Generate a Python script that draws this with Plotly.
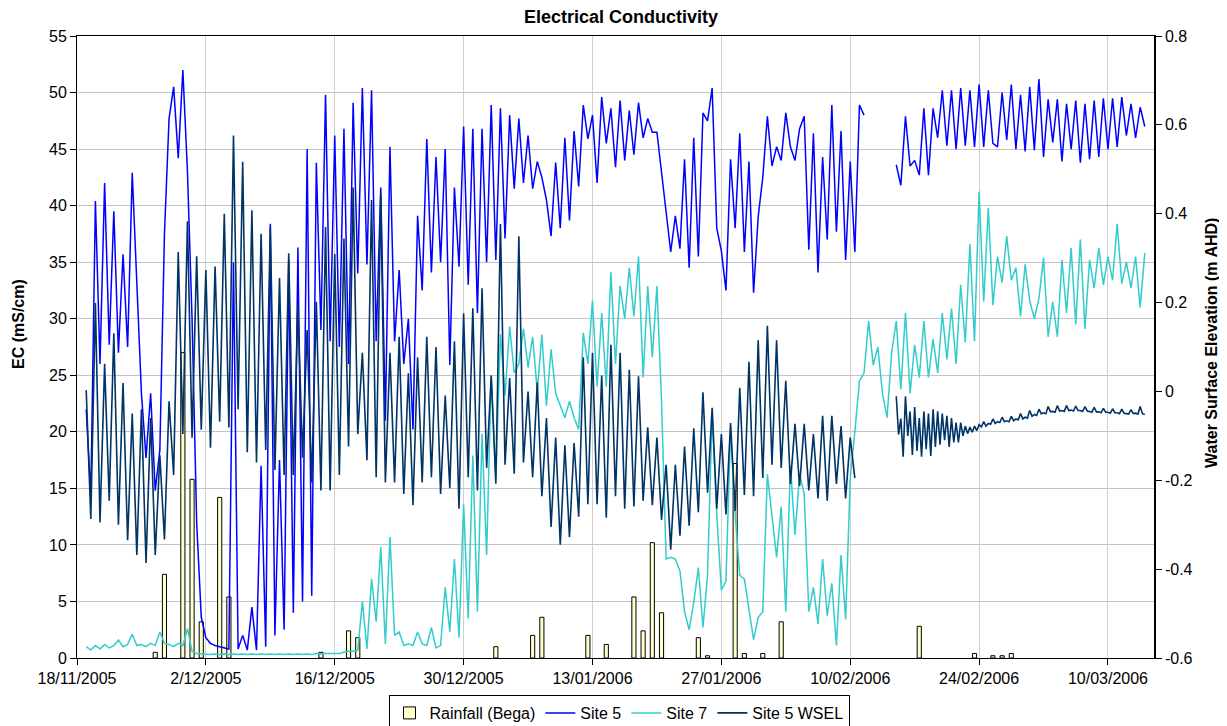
import pandas as pd
import plotly.graph_objects as go

# ---------------- data ----------------
start_main = "2005-11-19 00:00"   # 12-hourly readings
start_late = "2006-02-15 00:00"   # after logger gap

rain_dates = ["2005-11-26", "2005-11-27", "2005-11-29", "2005-11-30", "2005-12-01",
              "2005-12-03", "2005-12-04", "2005-12-14", "2005-12-17", "2005-12-18",
              "2006-01-02", "2006-01-06", "2006-01-07", "2006-01-12", "2006-01-14",
              "2006-01-17", "2006-01-18", "2006-01-19", "2006-01-20", "2006-01-24",
              "2006-01-25", "2006-01-28", "2006-01-29", "2006-01-31", "2006-02-02",
              "2006-02-17", "2006-02-23", "2006-02-25", "2006-02-26", "2006-02-27"]
rain_mm = [0.5, 7.4, 27.0, 15.8, 3.2,
           14.2, 5.4, 0.5, 2.4, 1.8,
           1.0, 2.0, 3.6, 2.0, 1.2,
           5.4, 2.4, 10.2, 4.0, 1.8,
           0.2, 17.2, 0.4, 0.4, 3.2,
           2.8, 0.4, 0.2, 0.2, 0.4]

site5_a = [22.0, 14.3, 40.4, 26.0, 42.0, 27.7, 39.5, 27.0, 35.7, 27.5,
           42.9, 32.7, 23.4, 17.7, 23.4, 14.8, 18.4, 37.5, 47.7, 50.5,
           44.2, 52.0, 43.0, 30.0, 12.0, 3.6, 1.8, 1.3, 1.1, 1.0,
           0.9, 0.8, 35.0, 0.8, 2.0, 0.7, 4.5, 0.7, 17.0, 1.0,
           38.4, 2.0, 17.5, 2.5, 35.2, 4.0, 36.3, 5.0, 45.0, 5.5,
           43.8, 29.0, 49.8, 28.0, 46.2, 27.5, 46.8, 26.0, 49.1, 34.0,
           50.4, 34.8, 50.2, 28.0, 41.6, 21.0, 45.2, 28.0, 34.3, 26.0,
           30.0, 20.2, 39.1, 32.5, 45.9, 34.1, 44.3, 35.0, 45.0, 25.9,
           41.6, 34.6, 47.0, 33.0, 46.8, 30.5, 46.8, 35.0, 48.9, 35.2,
           48.6, 37.1, 48.0, 41.5, 47.7, 42.0, 46.2, 41.5, 43.9, 42.5,
           40.5, 37.3, 43.8, 38.0, 46.0, 38.7, 46.6, 41.7, 48.9, 45.9,
           48.0, 42.0, 49.6, 45.5, 48.6, 43.4, 49.3, 44.0, 48.4, 44.5,
           49.1, 46.0, 47.7, 46.5, 46.5, 43.0, 39.0, 35.9, 39.1, 36.2,
           44.1, 34.5, 46.0, 35.5, 48.2, 47.5, 50.4, 38.0, 36.0, 32.5,
           44.1, 38.0, 46.4, 35.9, 43.9, 32.3, 39.0, 42.5, 47.9, 43.5,
           45.2, 44.0, 48.2, 45.2, 44.0, 46.8, 47.9, 36.1, 46.4, 34.1,
           44.3, 37.0, 48.9, 37.7, 46.6, 35.2, 43.9, 35.9, 48.9, 48.0]

site5_b = [43.6, 41.8, 47.9, 43.5, 44.0, 42.7, 48.6, 42.7, 48.6, 46.0,
           50.2, 45.3, 50.2, 45.0, 50.4, 45.3, 50.2, 45.2, 50.7, 45.2,
           50.2, 45.5, 45.2, 50.0, 45.8, 50.7, 45.0, 49.8, 44.8, 50.5,
           44.9, 51.2, 44.3, 49.4, 45.6, 49.4, 43.9, 49.0, 45.0, 49.3,
           43.8, 49.0, 44.1, 49.3, 44.3, 49.5, 45.0, 49.5, 45.2, 49.6,
           46.2, 49.0, 46.0, 48.7, 47.0]

site7 = [1.0, 0.7, 1.1, 0.8, 1.2, 0.9, 1.1, 1.6, 1.0, 1.2,
         2.1, 1.1, 1.2, 1.0, 1.3, 1.1, 2.3, 1.3, 1.2, 1.0,
         1.3, 1.1, 2.6, 0.6, 0.4, 0.35, 0.35, 0.3, 0.35, 0.3,
         0.35, 0.3, 0.35, 0.3, 0.35, 0.3, 0.35, 0.3, 0.35, 0.3,
         0.35, 0.3, 0.35, 0.3, 0.35, 0.3, 0.35, 0.3, 0.35, 0.3,
         0.4, 0.35, 0.4, 0.4, 0.45, 0.4, 0.5, 0.6, 0.6, 0.7,
         5.0, 0.8, 7.0, 3.2, 9.8, 1.25, 10.7, 2.0, 2.3, 1.1,
         1.25, 1.1, 2.3, 1.25, 1.1, 2.7, 0.9, 1.1, 6.25, 2.3,
         8.75, 1.8, 13.6, 3.5, 17.9, 4.1, 19.8, 9.1, 25.0, 16.0,
         28.6, 23.2, 29.3, 25.2, 26.0, 29.1, 25.7, 28.4, 23.6, 28.6,
         22.3, 27.3, 23.4, 22.3, 21.25, 22.7, 21.25, 20.2, 28.75, 26.0,
         31.6, 24.0, 30.5, 24.0, 34.1, 26.0, 32.9, 30.0, 34.5, 30.2,
         35.5, 24.8, 32.9, 26.6, 32.9, 22.7, 8.75, 8.9, 8.75, 7.7,
         4.1, 2.5, 4.9, 8.0, 2.7, 7.3, 21.6, 12.7, 6.0, 6.8,
         20.2, 12.7, 7.3, 7.0, 4.1, 1.6, 3.6, 4.1, 16.25, 12.7,
         8.9, 13.4, 4.1, 17.0, 10.9, 16.25, 14.5, 4.1, 6.25, 3.0,
         8.75, 3.75, 6.6, 1.1, 9.1, 3.4, 15.9, 20.0, 24.5, 25.2,
         29.8, 25.9, 27.5, 23.4, 21.25, 27.0, 29.8, 23.75, 30.5, 23.4,
         27.7, 24.8, 29.8, 24.8, 28.2, 25.2, 30.5, 26.4, 30.9, 26.0,
         33.0, 27.9, 36.6, 28.0, 41.25, 31.5, 39.8, 31.2, 35.5, 33.2,
         37.3, 33.4, 34.5, 30.2, 34.8, 31.6, 30.0, 31.8, 35.4, 28.4,
         31.5, 28.4, 35.2, 30.5, 36.25, 29.5, 37.0, 29.1, 35.2, 32.7,
         36.25, 33.0, 35.5, 33.4, 38.4, 33.1, 35.0, 32.7, 35.5, 31.0,
         35.8]

wsel_a = [0.003, -0.287, 0.199, -0.295, 0.062, -0.246, 0.131, -0.300, 0.019, -0.335,
          -0.050, -0.368, -0.040, -0.386, -0.060, -0.368, -0.144, -0.333, -0.022, -0.188,
          0.314, -0.096, 0.383, -0.104, 0.304, -0.086, 0.273, -0.127, 0.281, -0.068,
          0.400, -0.081, 0.576, -0.040, 0.517, -0.137, 0.408, -0.160, 0.355, -0.132,
          0.370, -0.177, 0.255, -0.188, 0.311, -0.188, 0.194, -0.149, 0.138, -0.205,
          0.202, -0.223, 0.370, -0.223, 0.309, -0.188, 0.344, -0.124, 0.459, -0.096,
          0.087, -0.155, 0.431, -0.193, 0.444, -0.205, 0.087, -0.205, 0.123, -0.231,
          0.041, -0.256, 0.077, -0.205, 0.123, -0.193, 0.100, -0.231, -0.009, -0.218,
          0.113, -0.264, 0.176, -0.193, 0.187, -0.223, 0.232, -0.172, 0.036, -0.208,
          0.377, -0.165, 0.030, -0.185, 0.349, -0.160, 0.000, -0.193, 0.020, -0.236,
          -0.060, -0.305, -0.104, -0.345, -0.121, -0.328, -0.116, -0.282, 0.077, -0.254,
          0.087, -0.254, 0.036, -0.284, 0.105, -0.236, 0.087, -0.264, 0.049, -0.259,
          0.034, -0.246, -0.081, -0.256, -0.104, -0.289, -0.165, -0.356, -0.165, -0.325,
          -0.124, -0.302, -0.083, -0.272, -0.002, -0.228, -0.037, -0.264, -0.096, -0.277,
          -0.071, -0.269, 0.008, -0.233, 0.067, -0.236, 0.115, -0.195, 0.148, -0.165,
          0.115, -0.172, 0.024, -0.208, -0.073, -0.213, -0.073, -0.223, -0.096, -0.241,
          -0.055, -0.246, -0.055, -0.208, -0.078, -0.241, -0.104, -0.195]

wsel_b = [-0.011, -0.097, -0.061, -0.147, -0.011, -0.100, -0.045, -0.143,
          -0.035, -0.134, -0.060, -0.147, -0.045, -0.130, -0.050, -0.145,
          -0.040, -0.125, -0.045, -0.120, -0.050, -0.110, -0.055, -0.125,
          -0.060, -0.115, -0.070, -0.115, -0.070, -0.100, -0.078, -0.095,
          -0.080, -0.092, -0.078, -0.088, -0.075, -0.080, -0.068, -0.078,
          -0.072, -0.074, -0.062, -0.072, -0.068, -0.070, -0.058, -0.068,
          -0.066, -0.068, -0.056, -0.066, -0.062, -0.064, -0.050, -0.062,
          -0.058, -0.060, -0.043, -0.056, -0.052, -0.054, -0.040, -0.050,
          -0.048, -0.050, -0.034, -0.046, -0.045, -0.047, -0.032, -0.044,
          -0.043, -0.045, -0.032, -0.043, -0.042, -0.044, -0.033, -0.043,
          -0.043, -0.045, -0.034, -0.044, -0.045, -0.047, -0.036, -0.046,
          -0.046, -0.048, -0.038, -0.047, -0.047, -0.049, -0.039, -0.048,
          -0.048, -0.050, -0.040, -0.049, -0.050, -0.051, -0.041, -0.050,
          -0.049, -0.051, -0.034, -0.050, -0.052]

tick_dates = ["2005-11-18", "2005-12-02", "2005-12-16", "2005-12-30", "2006-01-13",
              "2006-01-27", "2006-02-10", "2006-02-24", "2006-03-10"]
tick_labels = ["18/11/2005", "2/12/2005", "16/12/2005", "30/12/2005", "13/01/2006",
               "27/01/2006", "10/02/2006", "24/02/2006", "10/03/2006"]
ec_ticks = [0, 5, 10, 15, 20, 25, 30, 35, 40, 45, 50, 55]
wsel_ticks = [-0.6, -0.4, -0.2, 0, 0.2, 0.4, 0.6, 0.8]
wsel_tick_labels = ["-0.6", "-0.4", "-0.2", "0", "0.2", "0.4", "0.6", "0.8"]

# ---------------- build ----------------
def joined(vals_a, start_a, step_a, vals_b, start_b, step_b):
    ta = list(pd.date_range(start_a, periods=len(vals_a), freq=step_a))
    tb = list(pd.date_range(start_b, periods=len(vals_b), freq=step_b))
    gap_t = ta[-1] + pd.Timedelta(step_a)
    return ta + [gap_t] + tb, list(vals_a) + [None] + list(vals_b)

x5, y5 = joined(site5_a, start_main, "12h", site5_b, start_late, "12h")
xw, yw = joined(wsel_a, start_main, "12h", wsel_b, start_late, "6h")
x7 = list(pd.date_range(start_main, periods=len(site7), freq="12h"))
xr = list(pd.to_datetime(rain_dates) + pd.Timedelta(hours=12))

FONT = "Liberation Sans, Arial, sans-serif"

# page body has an 8px margin: figure is sized/offset to compensate
OFF = 8
W, H = 1227 - OFF, 726 - OFF
PL, PR, PT, PB = 77, 1154, 36, 658   # plot area in screen pixels

fig = go.Figure()
fig.add_trace(go.Bar(x=xr, y=rain_mm, name="Rainfall (Bega)",
                     marker=dict(color="#FFFFCC", line=dict(color="black", width=1)),
                     width=0.45 * 86400000))
fig.add_trace(go.Scatter(x=x5, y=y5, mode="lines", name="Site 5",
                         line=dict(color="#0000FF", width=1.5)))
fig.add_trace(go.Scatter(x=x7, y=site7, mode="lines", name="Site 7",
                         line=dict(color="#33CCCC", width=1.5)))
fig.add_trace(go.Scatter(x=xw, y=yw, mode="lines", name="Site 5 WSEL", yaxis="y2",
                         line=dict(color="#003366", width=1.6)))

pw, ph = PR - PL, PB - PT
fig.update_layout(
    width=W, height=H,
    margin=dict(l=PL - OFF, r=W - (PR - OFF), t=PT - OFF, b=H - (PB - OFF), autoexpand=False),
    paper_bgcolor="white", plot_bgcolor="white",
    font=dict(family=FONT, size=16, color="black"),
    title=dict(text="<b>Electrical Conductivity</b>", x=(621 - OFF) / W, xanchor="center",
               y=1 - (17 - OFF) / H, yanchor="middle", font=dict(size=18, family=FONT)),
    showlegend=True,
    legend=dict(orientation="h", x=(619 - PL) / pw, xanchor="center",
                y=-(695 - PB) / ph, yanchor="top",
                bordercolor="black", borderwidth=1, bgcolor="white",
                font=dict(size=16, family=FONT), traceorder="normal"),
    xaxis=dict(type="date", range=["2005-11-18", "2006-03-15"],
               tickvals=tick_dates, ticktext=tick_labels,
               ticks="outside", ticklen=6, tickcolor="black",
               showline=True, linecolor="black", linewidth=1, mirror=True,
               showgrid=True, gridcolor="#d0d0d0", zeroline=False),
    yaxis=dict(range=[0, 55], tickvals=ec_ticks, ticks="outside", ticklen=6,
               tickcolor="black", showline=True, linecolor="black", linewidth=1,
               showgrid=True, gridcolor="#c4c4c4", zeroline=False),
    yaxis2=dict(overlaying="y", side="right", range=[-0.6, 0.8],
                tickvals=wsel_ticks, ticktext=wsel_tick_labels,
                ticks="outside", ticklen=6, tickcolor="black",
                showline=True, linecolor="black", linewidth=1.5,
                showgrid=False, zeroline=False),
    annotations=[
        dict(text="<b>EC (mS/cm)</b>", xref="paper", yref="paper",
             x=(18 - PL) / pw, y=(PB - 324) / ph, textangle=-90,
             showarrow=False, xanchor="center", yanchor="middle",
             font=dict(size=16, family=FONT)),
        dict(text="<b>Water Surface Elevation (m AHD)</b>", xref="paper", yref="paper",
             x=(1212 - PL) / pw, y=(PB - 343) / ph, textangle=-90,
             showarrow=False, xanchor="center", yanchor="middle",
             font=dict(size=16, family=FONT)),
    ],
)

fig.write_html("out.html")
